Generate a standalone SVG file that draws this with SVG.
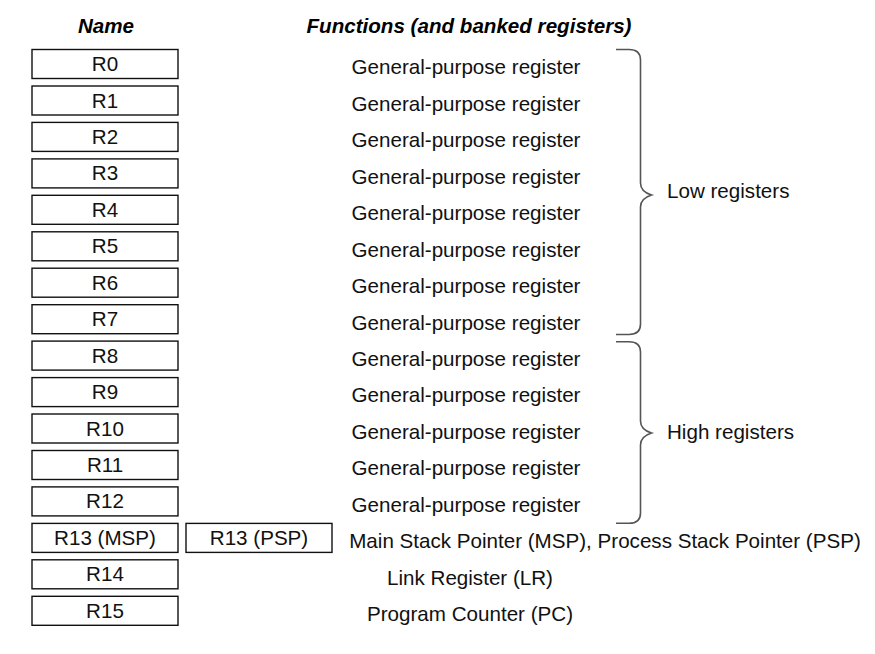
<svg xmlns="http://www.w3.org/2000/svg" width="875" height="654" viewBox="0 0 875 654">
<style>
.box{fill:#fff;stroke:#111;stroke-width:1.4}
.t{font-family:"Liberation Sans",Arial,sans-serif;font-size:20.6px;fill:#111;text-anchor:middle}
.h{font-family:"Liberation Sans",Arial,sans-serif;font-size:20.6px;font-weight:bold;font-style:italic;fill:#000;text-anchor:middle}
.l{font-family:"Liberation Sans",Arial,sans-serif;font-size:20.6px;fill:#111}
.brace{fill:none;stroke:#555;stroke-width:1.6}
</style>
<rect width="875" height="654" fill="#fff"/>
<text class="h" x="106" y="33">Name</text>
<text class="h" x="469" y="33">Functions (and banked registers)</text>
<g id="R0"><rect class="box" x="32" y="49.5" width="146" height="29"/><text class="t" x="105" y="71">R0</text></g>
<g id="R1"><rect class="box" x="32" y="86" width="146" height="29"/><text class="t" x="105" y="107.5">R1</text></g>
<g id="R2"><rect class="box" x="32" y="122.4" width="146" height="29"/><text class="t" x="105" y="143.9">R2</text></g>
<g id="R3"><rect class="box" x="32" y="158.9" width="146" height="29"/><text class="t" x="105" y="180.4">R3</text></g>
<g id="R4"><rect class="box" x="32" y="195.3" width="146" height="29"/><text class="t" x="105" y="216.8">R4</text></g>
<g id="R5"><rect class="box" x="32" y="231.8" width="146" height="29"/><text class="t" x="105" y="253.3">R5</text></g>
<g id="R6"><rect class="box" x="32" y="268.2" width="146" height="29"/><text class="t" x="105" y="289.7">R6</text></g>
<g id="R7"><rect class="box" x="32" y="304.7" width="146" height="29"/><text class="t" x="105" y="326.2">R7</text></g>
<g id="R8"><rect class="box" x="32" y="341.1" width="146" height="29"/><text class="t" x="105" y="362.6">R8</text></g>
<g id="R9"><rect class="box" x="32" y="377.6" width="146" height="29"/><text class="t" x="105" y="399.1">R9</text></g>
<g id="R10"><rect class="box" x="32" y="414" width="146" height="29"/><text class="t" x="105" y="435.5">R10</text></g>
<g id="R11"><rect class="box" x="32" y="450.5" width="146" height="29"/><text class="t" x="105" y="472">R11</text></g>
<g id="R12"><rect class="box" x="32" y="486.9" width="146" height="29"/><text class="t" x="105" y="508.4">R12</text></g>
<g id="R13MSP"><rect class="box" x="32" y="523.4" width="146" height="29"/><text class="t" x="105" y="544.9">R13 (MSP)</text></g>
<g id="R13PSP"><rect class="box" x="186" y="523.4" width="146" height="29"/><text class="t" x="259" y="544.9">R13 (PSP)</text></g>
<g id="R14"><rect class="box" x="32" y="559.8" width="146" height="29"/><text class="t" x="105" y="581.3">R14</text></g>
<g id="R15"><rect class="box" x="32" y="596.3" width="146" height="29"/><text class="t" x="105" y="617.8">R15</text></g>
<g id="functions">
<text class="t" x="466" y="74.3">General-purpose register</text>
<text class="t" x="466" y="110.8">General-purpose register</text>
<text class="t" x="466" y="147.2">General-purpose register</text>
<text class="t" x="466" y="183.7">General-purpose register</text>
<text class="t" x="466" y="220.1">General-purpose register</text>
<text class="t" x="466" y="256.6">General-purpose register</text>
<text class="t" x="466" y="293">General-purpose register</text>
<text class="t" x="466" y="329.5">General-purpose register</text>
<text class="t" x="466" y="365.9">General-purpose register</text>
<text class="t" x="466" y="402.4">General-purpose register</text>
<text class="t" x="466" y="438.8">General-purpose register</text>
<text class="t" x="466" y="475.3">General-purpose register</text>
<text class="t" x="466" y="511.7">General-purpose register</text>
<text class="t" x="605" y="548.2">Main Stack Pointer (MSP), Process Stack Pointer (PSP)</text>
<text class="t" x="470" y="584.6">Link Register (LR)</text>
<text class="t" x="470" y="621.1">Program Counter (PC)</text>
</g>
<g id="low-brace">
<path class="brace" d="M616,49.5 L629,49.5 C636,49.5 640.5,53 640.5,60 L640.5,183 C640.5,189 645,193 651.5,195 C645,197 640.5,201 640.5,207 L640.5,324 C640.5,331 636,334.5 629,334.5 L616,334.5"/>
<text class="l" x="667" y="198">Low registers</text>
</g>
<g id="high-brace">
<path class="brace" d="M616,341.7 L629,341.7 C636,341.7 640.5,345 640.5,352 L640.5,421 C640.5,427 645,431 651.5,433 C645,435 640.5,439 640.5,445 L640.5,513 C640.5,520 636,523.3 629,523.3 L616,523.3"/>
<text class="l" x="667" y="439">High registers</text>
</g>
</svg>
